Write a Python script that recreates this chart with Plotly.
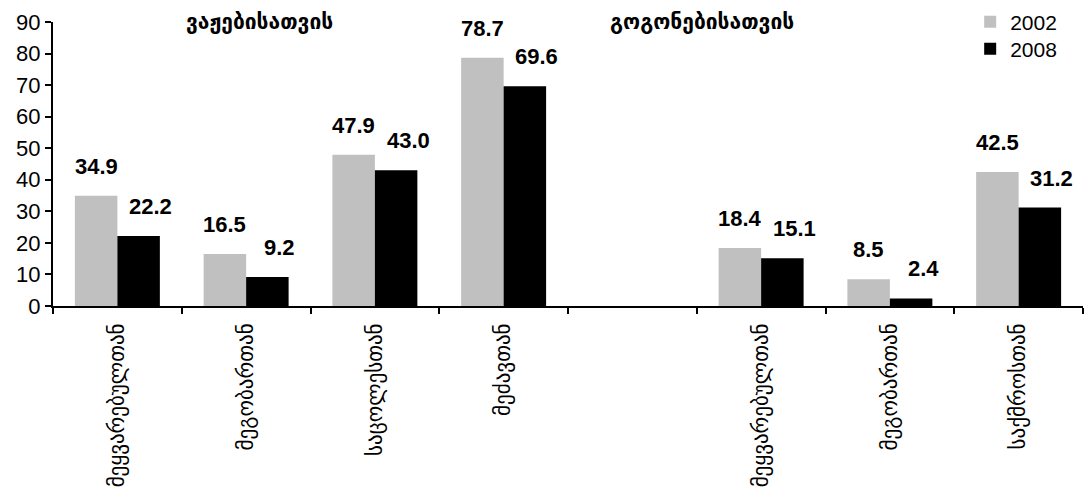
import plotly.graph_objects as go

categories = ["მეყვარებულთან", "მეგობართან", "საცოლესთან", "მეძავთან", "",
              "მეყვარებულთან", "მეგობართან", "საქმროსთან"]
years = ["2002", "2008"]
values_2002 = [34.9, 16.5, 47.9, 78.7, None, 18.4, 8.5, 42.5]
values_2008 = [22.2, 9.2, 43.0, 69.6, None, 15.1, 2.4, 31.2]
group_titles = ["ვაჟებისათვის", "გოგონებისათვის"]
y_ticks = list(range(0, 91, 10))

colors = ["#C0C0C0", "#000000"]
BARGAP = 0.34
half = (1 - BARGAP) / 4

xs = list(range(len(categories)))
fig = go.Figure()
for k, (name, vals, col) in enumerate(zip(years, [values_2002, values_2008], colors)):
    fig.add_trace(go.Bar(x=xs, y=vals, name=name, showlegend=True,
                         legend=("legend" if k == 0 else "legend2"),
                         marker=dict(color=col, line=dict(width=0))))

ann = []
for k, vals in enumerate([values_2002, values_2008]):
    for i, v in enumerate(vals):
        if v is None:
            continue
        ann.append(dict(
            x=i + (-half if k == 0 else half), y=v, xref="x", yref="y",
            text=f"<b>{v:.1f}</b>", showarrow=False,
            xanchor="center", yanchor="bottom",
            xshift=(0 if k == 0 else 12), yshift=15,
            font=dict(family="Liberation Sans, Arial", size=22, color="black"),
        ))

for t, xp in zip(group_titles, [0.20, 0.63]):
    ann.append(dict(
        x=xp, y=1.0, xref="paper", yref="paper", text=f"<b>{t}</b>",
        showarrow=False, xanchor="center", yanchor="middle",
        font=dict(family="DejaVu Sans", size=21, color="black"),
    ))

legend_style = dict(
    xref="container", yref="container", xanchor="left", yanchor="top",
    font=dict(family="Liberation Sans, Arial", size=21, color="black"),
    bgcolor="rgba(0,0,0,0)", visible=True,
)

fig.update_layout(
    width=1084, height=494,
    margin=dict(l=53, r=1, t=22, b=188, autoexpand=False),
    paper_bgcolor="white", plot_bgcolor="white",
    barmode="group", bargap=BARGAP, bargroupgap=0,
    annotations=ann,
    showlegend=True,
    legend=dict(x=0.895, y=0.997, **legend_style),
    legend2=dict(x=0.895, y=0.942, **legend_style),
    xaxis=dict(
        range=[-0.5, len(categories) - 0.5],
        tickmode="array", tickvals=xs, ticktext=categories,
        tickangle=-90, ticks="", ticklabelstandoff=7,
        tickfont=dict(family="DejaVu Sans", size=21, color="black"),
        showline=True, linecolor="black", linewidth=2,
        showgrid=False, zeroline=False,
        minor=dict(
            tickmode="array",
            tickvals=[i - 0.5 for i in range(len(categories) + 1)],
            ticks="outside", ticklen=6, tickwidth=2, tickcolor="black",
            showgrid=False,
        ),
    ),
    yaxis=dict(
        range=[0, 90], tickmode="array", tickvals=y_ticks,
        ticks="outside", ticklen=6, tickwidth=2, tickcolor="black",
        tickfont=dict(family="Liberation Sans, Arial", size=22, color="black"),
        showline=True, linecolor="black", linewidth=2,
        showgrid=False, zeroline=False,
    ),
)

fig.write_html("out.html", config={"displayModeBar": False},
               post_script="document.body.style.margin='0';document.body.style.overflow='hidden';")
